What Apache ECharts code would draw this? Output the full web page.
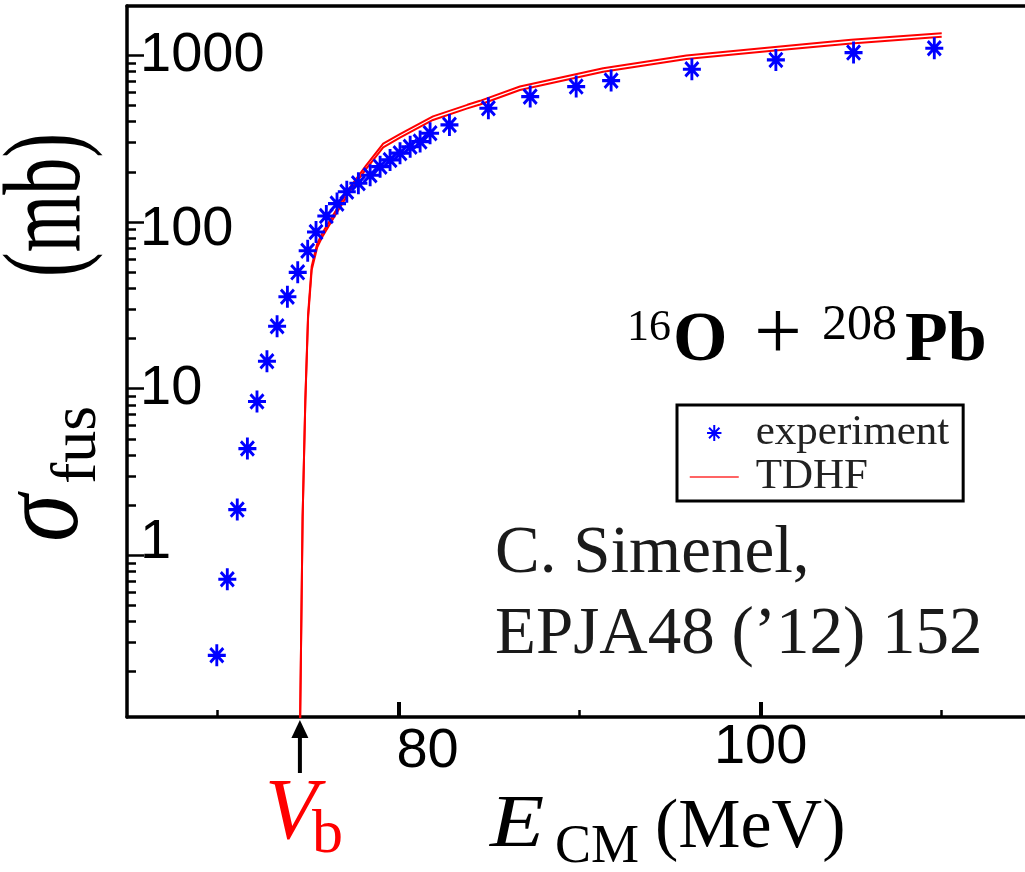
<!DOCTYPE html>
<html><head><meta charset="utf-8">
<script src="https://cdn.jsdelivr.net/npm/echarts@6/dist/echarts.min.js"></script>
<style>html,body{margin:0;padding:0;background:#fff}#c{width:1025px;height:872px}</style>
</head><body><div id="c"></div>
<script>
// ---- data ----
const expE = [69.96,70.54,71.09,71.65,72.18,72.73,73.29,73.86,74.43,74.98,75.44,76.01,76.60,77.14,77.78,78.43,78.98,79.53,80.08,80.64,81.19,81.74,82.81,84.96,87.27,89.81,91.74,96.20,100.84,105.13,109.59];
const expSigma = [0.251,0.718,1.88,4.37,8.38,14.6,23.7,35.6,49.9,67.3,87.1,108.7,129,152,171,191,215,236,259,283,304,341,383,482,566,650,706,826,940,1040,1105];

const tdhfUpperE = [74.55,74.70,74.85,75.00,75.20,75.50,75.80,76.40,77.30,78.20,79.15,80.10,81.90,83.80,84.50,86.70,91.30,95.90,100.50,105.00,110.00];
const tdhfUpperSigma = [0.08,1.7,8.6,27.7,54.1,73.8,86.1,110.7,160.4,218.3,295.2,338.3,430.5,505.3,534,651,838,999,1116,1241,1360];
const tdhfLowerE = [74.55,74.70,74.85,75.00,75.20,75.50,75.80,76.40,77.30,78.20,79.15,80.10,81.90,83.80,84.50,86.70,91.30,95.90,100.50,105.00,110.00];
const tdhfLowerSigma = [0.08,1.7,8.4,26.3,51.5,70.2,82.0,105.4,152.7,207.8,281,322,409.8,481,508,620,798,951,1062,1181,1295];

const xMajorTicks = [80, 100];
const xMinorTicks = [70, 90, 110];
const yMajorTicks = [1, 10, 100, 1000];
const yMinorTicks = [0.2,0.3,0.4,0.5,0.6,0.7,0.8,0.9,2,3,4,5,6,7,8,9,20,30,40,50,60,70,80,90,200,300,400,500,600,700,800,900];
const VB = 74.55;

const X_MIN = 65, X_MAX = 114.6, Y_MIN = 0.107, Y_MAX = 1980;

const pairs = (xs, ys) => xs.map((x, i) => [x, ys[i]]);
const STAR = 'path://M0,-10L0,10M-9,0L9,0M-6.5,-6.5L6.5,6.5M-6.5,6.5L6.5,-6.5';
const NUMFONT = 'Liberation Sans';
const SERIF = 'Liberation Serif';

const chart = echarts.init(document.getElementById('c'), null, {renderer: 'canvas'});

const numStyle = {fontSize: 56, fontFamily: NUMFONT, color: '#000', lineHeight: 56};

const option = {
  animation: false,
  backgroundColor: '#fff',
  grid: {left: 127, right: 0, top: 6, bottom: 155},
  xAxis: [
    {
      type: 'value', position: 'bottom', min: X_MIN, max: X_MAX,
      splitLine: {show: false},
      axisLine: {show: true, onZero: false, lineStyle: {color: '#000', width: 3.5}},
      axisTick: {show: true, inside: true, length: 15, customValues: xMajorTicks, lineStyle: {color: '#000', width: 4}},
      axisLabel: {
        show: true, customValues: xMajorTicks, margin: 3,
        formatter: v => (Math.round(v) === 80 ? '{a|80}' : '{b|' + Math.round(v) + '}'),
        rich: {a: Object.assign({padding: [7, 0, 0, 58]}, numStyle), b: Object.assign({}, numStyle)}
      }
    },
    {
      type: 'value', position: 'bottom', min: X_MIN, max: X_MAX,
      splitLine: {show: false},
      axisLine: {show: false, onZero: false},
      axisTick: {show: true, inside: true, length: 7, customValues: xMinorTicks, lineStyle: {color: '#000', width: 2.5}},
      axisLabel: {show: false}
    },
    {
      type: 'value', position: 'top', min: X_MIN, max: X_MAX,
      splitLine: {show: false},
      axisLine: {show: true, onZero: false, lineStyle: {color: '#000', width: 3.5}},
      axisTick: {show: false}, axisLabel: {show: false}
    }
  ],
  yAxis: [
    {
      type: 'log', logBase: 10, position: 'left', min: Y_MIN, max: Y_MAX,
      splitLine: {show: false}, minorTick: {show: false},
      axisLine: {show: true, onZero: false, lineStyle: {color: '#000', width: 3.5}},
      axisTick: {show: true, inside: true, length: 17, customValues: yMajorTicks, lineStyle: {color: '#000', width: 2.5}},
      axisLabel: {
        show: true, inside: true, margin: 13, customValues: yMajorTicks,
        formatter: v => {
          const r = Math.round(v);
          if (r === 100) return '{d|100}';
          if (r === 1) return '{u|1}';
          return '{n|' + r + '}';
        },
        rich: {
          n: Object.assign({}, numStyle),
          d: Object.assign({padding: [16, 0, 0, 0]}, numStyle),
          u: Object.assign({padding: [0, 0, 26, 0]}, numStyle)
        }
      }
    },
    {
      type: 'log', logBase: 10, position: 'left', min: Y_MIN, max: Y_MAX,
      splitLine: {show: false},
      axisLine: {show: false, onZero: false},
      axisTick: {show: true, inside: true, length: 9, customValues: yMinorTicks, lineStyle: {color: '#000', width: 2.5}},
      axisLabel: {show: false}
    }
  ],
  legend: {
    left: 677, top: 405, orient: 'vertical',
    padding: [6, 14, 2, 12], itemGap: 0, itemWidth: 49, itemHeight: 16,
    borderColor: '#000', borderWidth: 3, backgroundColor: '#fff',
    textStyle: {fontFamily: SERIF, fontSize: 43, color: '#222', lineHeight: 44, padding: [0, 0, 0, 12]},
    data: [
      {name: 'experiment', icon: STAR, itemStyle: {color: '#0000ff', borderColor: '#0000ff', borderWidth: 2}},
      {name: 'TDHF', itemStyle: {opacity: 0}, lineStyle: {color: '#ff3030', width: 1.5}}
    ]
  },
  series: [
    {
      name: 'TDHF', type: 'line', data: pairs(tdhfUpperE, tdhfUpperSigma),
      xAxisIndex: 0, yAxisIndex: 0, showSymbol: false, symbol: 'none', clip: true,
      lineStyle: {color: '#ff0000', width: 2}, itemStyle: {color: '#ff0000'}, z: 2
    },
    {
      name: 'TDHF', type: 'line', data: pairs(tdhfLowerE, tdhfLowerSigma),
      xAxisIndex: 0, yAxisIndex: 0, showSymbol: false, symbol: 'none', clip: true,
      lineStyle: {color: '#ff0000', width: 2}, itemStyle: {color: '#ff0000'}, z: 2
    },
    {
      name: 'experiment', type: 'scatter', data: pairs(expE, expSigma),
      xAxisIndex: 0, yAxisIndex: 0, symbol: STAR, symbolSize: [20, 22], symbolKeepAspect: true,
      itemStyle: {color: '#0000ff', borderColor: '#0000ff', borderWidth: 3, opacity: 1}, z: 3
    }
  ]
};
chart.setOption(option);

// ---- annotations ----
function txt(text, x, baseline, fs, extra, sx) {
  return {
    type: 'text', x: x, y: baseline - 0.34 * fs, z: 10, scaleX: sx || 1,
    style: Object.assign({text: text, fontSize: fs, fontFamily: SERIF, fill: '#000', align: 'left', verticalAlign: 'middle'}, extra || {})
  };
}
function rot(text, cx, cy, fs, extra, sy) {
  return {
    type: 'text', x: cx, y: cy, rotation: Math.PI / 2, scaleY: sy || 1, z: 10,
    style: Object.assign({text: text, fontSize: fs, fontFamily: SERIF, fill: '#000', align: 'center', verticalAlign: 'middle'}, extra || {})
  };
}

const vbX = chart.convertToPixel({xAxisIndex: 0}, VB);
const axisY = chart.convertToPixel({yAxisIndex: 0}, Y_MIN);

const graphics = [
  // barrier arrow
  {type: 'line', z: 10, shape: {x1: vbX, y1: axisY + 18, x2: vbX, y2: axisY + 56}, style: {stroke: '#000', lineWidth: 4}},
  {type: 'polygon', z: 10, shape: {points: [[vbX, axisY + 3], [vbX - 8.5, axisY + 21], [vbX + 8.5, axisY + 21]]}, style: {fill: '#000'}},
  txt('V', vbX - 35, 845, 86, {fontStyle: 'italic', fill: '#ff0000'}),
  txt('b', vbX + 12, 857, 62, {fill: '#ff0000'}),
  // x title
  txt('E', 490, 852, 74, {fontStyle: 'italic'}, 1.2),
  txt('CM', 555, 866, 54),
  txt('(MeV)', 655, 852, 70),
  // y title
  rot('σ', 47, 518, 96, {fontStyle: 'italic'}, 1.2),
  rot('fus', 78, 445, 64),
  rot('(mb)', 50, 205, 74, {}, 1.5),
  // reaction
  txt('16', 627, 343, 44),
  txt('O', 673, 366, 70, {fontWeight: 'bold'}),
  txt('+', 754, 366, 85),
  txt('208', 822, 343, 50),
  txt('Pb', 905, 366, 70, {fontWeight: 'bold'}),
  // citation
  txt('C. Simenel,', 495, 577, 67, {fill: '#1a1a1a'}),
  txt('EPJA48 (\u201912) 152', 495, 658, 67, {fill: '#1a1a1a'})
];
chart.setOption({graphic: graphics});
</script>
</body></html>
